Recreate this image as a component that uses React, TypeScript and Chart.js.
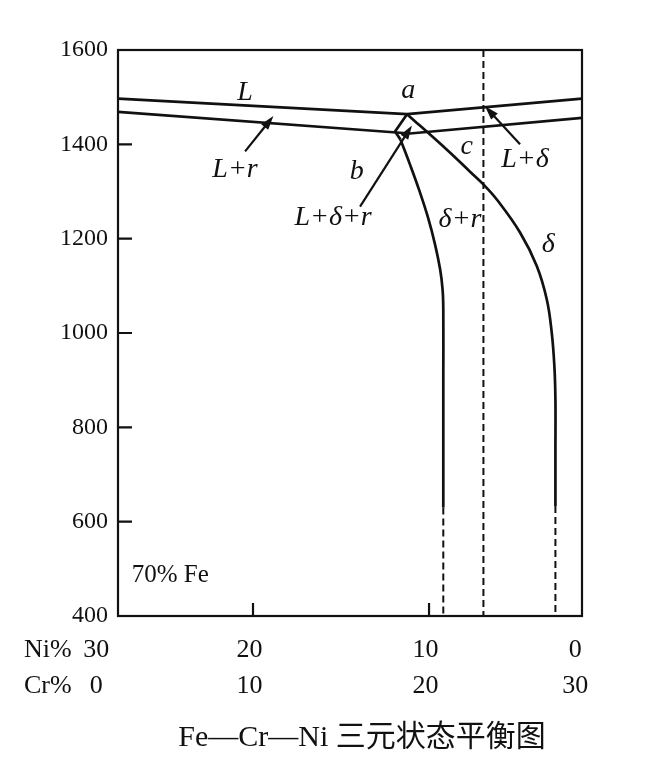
import React, { useEffect, useRef } from 'react';
import { Chart, registerables } from 'chart.js';

Chart.register(...registerables);

const SERIF = "'Liberation Serif', 'Times New Roman', serif";
const TITLE_FONT = "30px 'Liberation Serif', 'Noto Sans CJK SC', serif";

// x axis in Cr %, y axis in °C
const X_MIN = 2.33;
const X_MAX = 28.69;
const Y_MIN = 400;
const Y_MAX = 1600;
const Y_STEP = 200;
const Y_INNER_TICKS = [1400, 1200, 1000, 800, 600];
const X_INNER_TICKS = [10, 20];

// bottom label rows
const NI_LABELS = ['30', '20', '10', '0'];
const CR_LABELS = ['0', '10', '20', '30'];
const LABEL_POS_CR = [1.1, 9.8, 19.8, 28.3];

// liquidus line (L)
const LIQ_CR = [2.33, 18.75, 28.69];
const LIQ_T = [1497, 1464, 1497];
// solidus line
const SOL_CR = [2.33, 18.92, 28.69];
const SOL_T = [1469, 1423, 1456];
// small three-phase wedge near a
const WEDGE_CR = [18.75, 18.07, 18.38];
const WEDGE_T = [1464, 1427, 1410];
// left boundary (b) of δ+r
const B_CR = [18.38, 18.92, 19.43, 19.94, 20.34, 20.63, 20.77, 20.81, 20.81, 20.81, 20.81];
const B_T = [1410, 1357, 1304, 1245, 1188, 1135, 1092, 1050, 900, 750, 630];
const B_DASH_CR = [20.81, 20.81];
const B_DASH_T = [630, 400];
// right boundary (c) of δ+r
const C_CR = [18.75, 21.0, 22.33, 23.09, 23.85, 25.17, 26.12, 26.69, 26.97, 27.12, 27.18, 27.18, 27.18];
const C_T = [1464, 1389, 1342, 1315, 1283, 1213, 1142, 1071, 1001, 930, 859, 750, 633];
const C_DASH_CR = [27.18, 27.18];
const C_DASH_T = [633, 400];
// vertical dashed composition line
const V_CR = [23.09, 23.09];
const V_T = [1600, 400];

// annotation arrows (tail -> head)
const ARROW_FROM_CR = [9.55, 16.08, 25.17];
const ARROW_FROM_T = [1385, 1268, 1400];
const ARROW_TO_CR = [11.16, 19.03, 23.18];
const ARROW_TO_T = [1460, 1440, 1481];

// region labels
const LABEL_TEXT = ['L', 'L+r', 'a', 'b', 'c', 'L+δ+r', 'L+δ', 'δ+r', 'δ'];
const LABEL_CR = [9.55, 8.98, 18.82, 15.89, 22.14, 14.55, 25.45, 21.76, 26.78];
const LABEL_T = [1509, 1347, 1513, 1343, 1396, 1245, 1368, 1241, 1188];

const NOTE_TEXT = '70% Fe';
const NOTE_CR = 3.11;
const NOTE_T = 485;

const TITLE = 'Fe—Cr—Ni 三元状态平衡图';

const pts = (xs: number[], ys: number[]) => xs.map((x, i) => ({ x, y: ys[i] }));

const line = (xs: number[], ys: number[], extra: any = {}) => ({
  data: pts(xs, ys),
  showLine: true,
  borderColor: '#111',
  backgroundColor: '#111',
  borderWidth: 2.7,
  pointRadius: 0,
  tension: 0,
  ...extra,
});

const overlay = {
  id: 'overlay',
  afterDraw(chart: any) {
    const ctx = chart.ctx as CanvasRenderingContext2D;
    const { left, right, top, bottom } = chart.chartArea;
    const xs = chart.scales.x;
    const ys = chart.scales.y;
    ctx.save();
    ctx.strokeStyle = '#111';
    ctx.fillStyle = '#111';
    // frame
    ctx.lineWidth = 2.2;
    ctx.strokeRect(left, top, right - left, bottom - top);
    // inward ticks
    ctx.beginPath();
    Y_INNER_TICKS.forEach((v) => {
      const y = ys.getPixelForValue(v);
      ctx.moveTo(left, y);
      ctx.lineTo(left + 14, y);
    });
    X_INNER_TICKS.forEach((v) => {
      const x = xs.getPixelForValue(v);
      ctx.moveTo(x, bottom);
      ctx.lineTo(x, bottom - 13);
    });
    ctx.stroke();

    // arrows
    ARROW_FROM_CR.forEach((_, i) => {
      const x1 = xs.getPixelForValue(ARROW_FROM_CR[i]);
      const y1 = ys.getPixelForValue(ARROW_FROM_T[i]);
      const x2 = xs.getPixelForValue(ARROW_TO_CR[i]);
      const y2 = ys.getPixelForValue(ARROW_TO_T[i]);
      const ang = Math.atan2(y2 - y1, x2 - x1);
      const hl = 14;
      const hw = 4.5;
      ctx.lineWidth = 2.2;
      ctx.beginPath();
      ctx.moveTo(x1, y1);
      ctx.lineTo(x2 - Math.cos(ang) * hl * 0.8, y2 - Math.sin(ang) * hl * 0.8);
      ctx.stroke();
      const bx = x2 - Math.cos(ang) * hl;
      const by = y2 - Math.sin(ang) * hl;
      ctx.beginPath();
      ctx.moveTo(x2, y2);
      ctx.lineTo(bx + Math.sin(ang) * hw, by - Math.cos(ang) * hw);
      ctx.lineTo(bx - Math.sin(ang) * hw, by + Math.cos(ang) * hw);
      ctx.closePath();
      ctx.fill();
    });

    // region labels
    ctx.font = `italic 28px ${SERIF}`;
    ctx.textAlign = 'center';
    ctx.textBaseline = 'middle';
    LABEL_TEXT.forEach((t, i) => {
      ctx.fillText(t, xs.getPixelForValue(LABEL_CR[i]), ys.getPixelForValue(LABEL_T[i]));
    });

    // composition note
    ctx.font = `25px ${SERIF}`;
    ctx.textAlign = 'left';
    ctx.fillText(NOTE_TEXT, xs.getPixelForValue(NOTE_CR), ys.getPixelForValue(NOTE_T));

    // bottom label rows
    const rowNi = bottom + 34;
    const rowCr = bottom + 70;
    ctx.font = `26px ${SERIF}`;
    ctx.textAlign = 'left';
    ctx.fillText('Ni%', 24, rowNi);
    ctx.fillText('Cr%', 24, rowCr);
    ctx.textAlign = 'center';
    LABEL_POS_CR.forEach((p, i) => {
      const x = xs.getPixelForValue(p);
      ctx.fillText(NI_LABELS[i], x, rowNi);
      ctx.fillText(CR_LABELS[i], x, rowCr);
    });

    // caption
    ctx.font = TITLE_FONT;
    ctx.textAlign = 'center';
    ctx.fillText(TITLE, 362, 738);
    ctx.restore();
  },
};

export default function App() {
  const ref = useRef<HTMLCanvasElement>(null);
  useEffect(() => {
    document.body.style.margin = '0';
    const canvas = ref.current!;
    const dash = [7, 4];
    const chart = new Chart(canvas, {
      type: 'scatter',
      data: {
        datasets: [
          line(LIQ_CR, LIQ_T),
          line(SOL_CR, SOL_T),
          line(WEDGE_CR, WEDGE_T),
          line(B_CR, B_T, { tension: 0.4 }),
          line(B_DASH_CR, B_DASH_T, { borderDash: dash, borderWidth: 2 }),
          line(C_CR, C_T, { tension: 0.4 }),
          line(C_DASH_CR, C_DASH_T, { borderDash: dash, borderWidth: 2 }),
          line(V_CR, V_T, { borderDash: dash, borderWidth: 2 }),
        ] as any,
      },
      options: {
        animation: false,
        responsive: false,
        maintainAspectRatio: false,
        layout: { padding: { left: 0, top: 50, right: 72, bottom: 0 } },
        plugins: {
          legend: { display: false },
          tooltip: { enabled: false },
          title: { display: false },
        },
        scales: {
          x: {
            type: 'linear',
            min: X_MIN,
            max: X_MAX,
            grid: { display: false, drawTicks: false },
            border: { display: false },
            ticks: { display: false },
            afterFit: (s: any) => {
              s.height = 168;
            },
          },
          y: {
            type: 'linear',
            min: Y_MIN,
            max: Y_MAX,
            grid: { display: false, drawTicks: false },
            border: { display: false },
            ticks: {
              stepSize: Y_STEP,
              color: '#111',
              padding: 10,
              font: { family: SERIF, size: 24 },
              callback: (v: any) => String(v),
            },
            afterFit: (s: any) => {
              s.width = 118;
            },
          },
        },
      } as any,
      plugins: [overlay],
    });
    return () => chart.destroy();
  }, []);
  return (
    <canvas
      ref={ref}
      width={654}
      height={784}
      style={{ display: 'block', width: '654px', height: '784px' }}
    />
  );
}
